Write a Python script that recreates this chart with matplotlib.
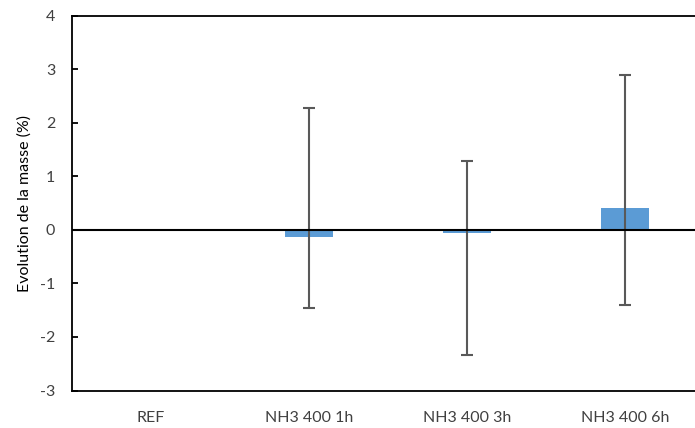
import matplotlib
matplotlib.use("Agg")
import matplotlib.pyplot as plt
import numpy as np

categories = ["REF", "NH3 400 1h", "NH3 400 3h", "NH3 400 6h"]
values = [0.0, -0.13, -0.05, 0.40]
err_upper_end = [np.nan, 2.27, 1.28, 2.90]
err_lower_end = [np.nan, -1.46, -2.34, -1.41]
yticks = [-3, -2, -1, 0, 1, 2, 3, 4]

plt.rcParams['font.family'] = ['Lato', 'DejaVu Sans']

fig = plt.figure(figsize=(6.95, 4.28), dpi=100)
W, H = 695, 428
left, right, top, bottom = 72, 704, 15.7, 390.5
ax = fig.add_axes([left / W, 1 - bottom / H, (right - left) / W, (bottom - top) / H])

x = np.arange(len(categories))
vals = np.array(values)
up = np.array(err_upper_end) - vals
lo = vals - np.array(err_lower_end)
ax.bar(x, vals, width=0.31, color='#5B9BD5', zorder=2)
mask = ~np.isnan(up)
ax.errorbar(x[mask], vals[mask], yerr=[lo[mask], up[mask]], fmt='none',
            ecolor='#595959', elinewidth=1.5, capsize=4, capthick=1.5, zorder=3)
ax.axhline(0, color='black', lw=1.5, zorder=4)

ax.set_xlim(-0.5, 3.5)
ax.set_ylim(-3, 4)
ax.set_yticks(yticks)
ax.set_yticklabels([str(t) for t in yticks])
ax.set_xticks(x)
ax.set_xticklabels(categories)
ax.tick_params(axis='y', direction='in', length=4, width=1.3, pad=12, labelsize=11.5, colors='black', labelcolor='#404040')
ax.tick_params(axis='x', length=0, pad=15, labelsize=11.5, labelcolor='#404040')
ax.set_ylabel("Evolution de la masse (%)", fontsize=11.5, color='black', labelpad=6)
for s in ['left', 'top', 'bottom']:
    ax.spines[s].set_linewidth(1.3)
    ax.spines[s].set_color('black')
ax.spines['right'].set_visible(False)

fig.savefig("out.png", dpi=100)
